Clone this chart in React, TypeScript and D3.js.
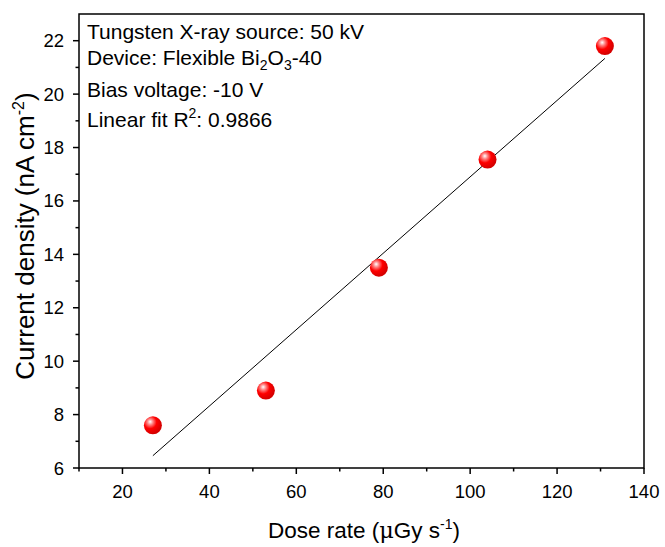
import React from "react";
import * as d3 from "d3";

const doseRate = [27, 53, 79, 104, 131];
const currentDensity = [7.6, 8.9, 13.5, 17.55, 21.8];
const xTicks = [20, 40, 60, 80, 100, 120, 140];
const yTicks = [6, 8, 10, 12, 14, 16, 18, 20, 22];

const W = 665, H = 547;
const m = { left: 79, right: 644, top: 14, bottom: 468 };

export default function App() {
  const x = d3.scaleLinear().domain([10, 140]).range([m.left, m.right]);
  const y = d3.scaleLinear().domain([6, 23]).range([m.bottom, m.top]);
  const n = doseRate.length;
  const mx = d3.mean(doseRate)!, my = d3.mean(currentDensity)!;
  let sxy = 0, sxx = 0;
  for (let i = 0; i < n; i++) {
    sxy += (doseRate[i] - mx) * (currentDensity[i] - my);
    sxx += (doseRate[i] - mx) ** 2;
  }
  const slope = sxy / sxx, icpt = my - slope * mx;
  const x0 = d3.min(doseRate)!, x1 = d3.max(doseRate)!;
  const fitLine = d3.line<number>().x(v => x(v)).y(v => y(icpt + slope * v))([x0, x1]);
  const xMinor = d3.range(10, 141, 10).filter(v => v % 20 !== 0);
  const yMinor = d3.range(7, 23, 2);
  const font = "Liberation Sans, Arial, sans-serif";
  return (
    <svg width={W} height={H} style={{ position: "absolute", left: 0, top: 0 }} fontFamily={font}>
      <defs>
        <radialGradient id="ball" cx="0.35" cy="0.35" r="0.65" fx="0.35" fy="0.3">
          <stop offset="0" stopColor="#ffffff" />
          <stop offset="0.25" stopColor="#ff8080" />
          <stop offset="0.55" stopColor="#ff0000" />
          <stop offset="1" stopColor="#d40000" />
        </radialGradient>
      </defs>
      <rect x={0} y={0} width={W} height={H} fill="#fff" />
      <path d={fitLine!} stroke="#000" strokeWidth={1} fill="none" />
      {doseRate.map((d, i) => (
        <circle key={i} cx={x(d)} cy={y(currentDensity[i])} r={9} fill="url(#ball)" />
      ))}
      <rect x={m.left} y={m.top} width={m.right - m.left} height={m.bottom - m.top} fill="none" stroke="#000" strokeWidth={1.5} />
      {xTicks.map(t => (
        <g key={t}>
          <line x1={x(t)} x2={x(t)} y1={m.bottom} y2={m.bottom + 6} stroke="#000" strokeWidth={1.5} />
          <text x={x(t)} y={498} textAnchor="middle" fontSize={18.5}>{t}</text>
        </g>
      ))}
      {xMinor.map(t => (
        <line key={t} x1={x(t)} x2={x(t)} y1={m.bottom} y2={m.bottom + 3.5} stroke="#000" strokeWidth={1.5} />
      ))}
      {yTicks.map(t => (
        <g key={t}>
          <line x1={m.left - 6} x2={m.left} y1={y(t)} y2={y(t)} stroke="#000" strokeWidth={1.5} />
          <text x={64} y={y(t) + 6.5} textAnchor="end" fontSize={18.5}>{t}</text>
        </g>
      ))}
      {yMinor.map(t => (
        <line key={t} x1={m.left - 3.5} x2={m.left} y1={y(t)} y2={y(t)} stroke="#000" strokeWidth={1.5} />
      ))}
      <text x={364} y={538} textAnchor="middle" fontSize={22.5}>
        Dose rate (<tspan fontFamily="DejaVu Serif, serif">μ</tspan>Gy s<tspan dy={-9} fontSize={14}>-1</tspan><tspan dy={9}>)</tspan>
      </text>
      <text transform={`translate(34,236) rotate(-90)`} textAnchor="middle" fontSize={26}>
        Current density (nA cm<tspan dy={-10} fontSize={16}>-2</tspan><tspan dy={10}>)</tspan>
      </text>
      <g fontSize={21}>
        <text x={87} y={39}>Tungsten X-ray source: 50 kV</text>
        <text x={87} y={65}>Device: Flexible Bi<tspan dy={5} fontSize={14}>2</tspan><tspan dy={-5}>O</tspan><tspan dy={5} fontSize={14}>3</tspan><tspan dy={-5}>-40</tspan></text>
        <text x={87} y={97}>Bias voltage: -10 V</text>
        <text x={87} y={127}>Linear fit R<tspan dy={-9} fontSize={14}>2</tspan><tspan dy={9}>: 0.9866</tspan></text>
      </g>
    </svg>
  );
}
